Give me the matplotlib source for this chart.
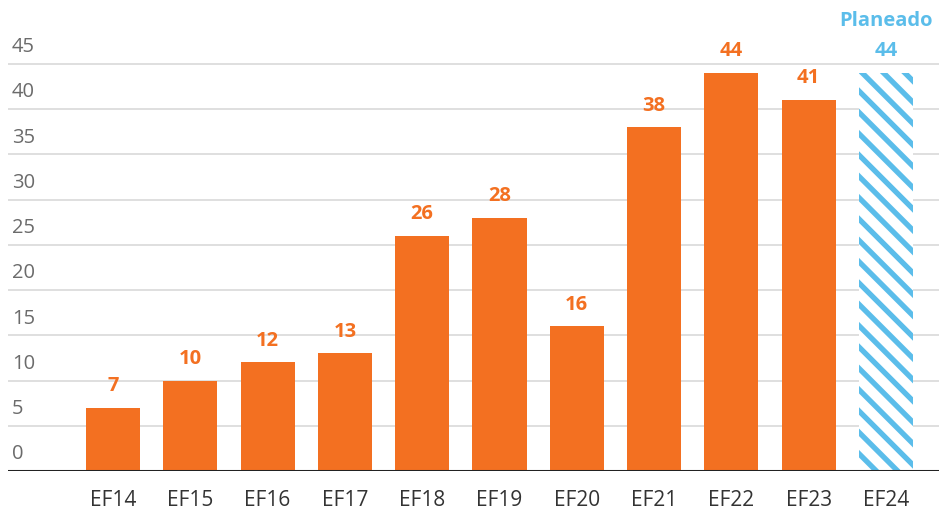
import matplotlib.pyplot as plt
import numpy as np

years = ['EF14', 'EF15', 'EF16', 'EF17', 'EF18', 'EF19', 'EF20', 'EF21', 'EF22', 'EF23', 'EF24']
values = [7, 10, 12, 13, 26, 28, 16, 38, 44, 41, 44]
planned = [False] * 10 + [True]
yticks = [0, 5, 10, 15, 20, 25, 30, 35, 40, 45]

orange = '#F37021'
blue = '#5BBDEA'

# render at dpi 128 so the hatch stripes get the tighter spacing; sizes below are scaled back
DPI = 128
S = 100 / DPI

plt.rcParams['font.family'] = ['Open Sans', 'DejaVu Sans']
plt.rcParams['hatch.linewidth'] = 3.0

fig = plt.figure(figsize=(939 / DPI, 512 / DPI), dpi=DPI)
ax = fig.add_axes([8 / 939, 41 / 512, 931 / 939, (471 - 18.8) / 512])

x = np.arange(len(years))
for xi, v, p in zip(x, values, planned):
    if p:
        ax.bar(xi, v, width=0.7, facecolor='white', edgecolor=blue, hatch='\\\\', linewidth=0, zorder=3)
    else:
        ax.bar(xi, v, width=0.7, color=orange, zorder=3)
    ax.text(xi, v + 1.3, str(v), ha='center', va='bottom', fontsize=14.5 * S, fontweight='bold',
            color=blue if p else orange, clip_on=False)
    if p:
        ax.text(xi, v + 4.6, 'Planeado', ha='center', va='bottom', fontsize=14.5 * S, fontweight='bold',
                color=blue, clip_on=False)

ax.set_xlim(-1.358, 10.686)
ax.set_ylim(0, 50)

for t in yticks[1:]:
    ax.axhline(t, color='#d9d9d9', linewidth=1.2 * S, zorder=1)
ax.axhline(0, color='#222222', linewidth=2.2 * S, zorder=4)

# y labels sit above the gridlines at the left
for t in yticks:
    ax.text(-1.31, t + 0.75, str(t), ha='left', va='bottom', fontsize=14.5 * S, color='#6b6b6b')

ax.set_xticks(x)
ax.set_xticklabels(years, fontsize=15 * S, color='#333333')
ax.tick_params(axis='x', length=0, pad=14 * S)
ax.set_yticks([])
for s in ax.spines.values():
    s.set_visible(False)

fig.savefig('out.png', dpi=DPI)
